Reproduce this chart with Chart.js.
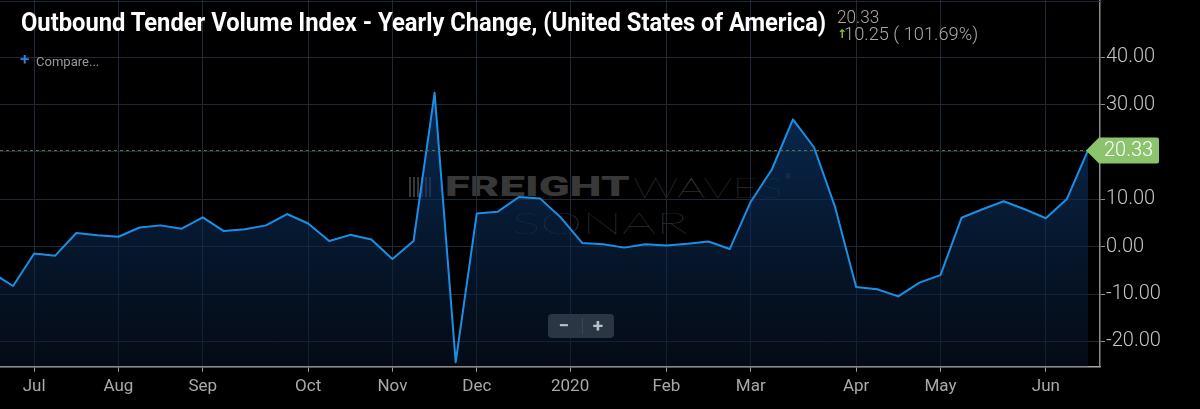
<!DOCTYPE html>
<html>
<head>
<meta charset="utf-8">
<script src="https://cdn.jsdelivr.net/npm/chart.js@4.4.1/dist/chart.umd.min.js"></script>
<style>
  html, body { margin: 0; padding: 0; background: #000; }
  #wrap { position: relative; width: 1200px; height: 409px; background: #000; overflow: hidden; }
  #chart { position: absolute; left: 0; top: 0; }
  .txt { position: absolute; white-space: nowrap; transform-origin: 0 0; }
  #title { left: 21px; top: 9px; font: 700 26px/26px Roboto, sans-serif; color: #fff; }
  #lastVal { left: 837px; top: 8px; font: 300 18px/18px Roboto, sans-serif; color: #a8a8a8; }
  #upArrow { left: 837px; top: 28px; font: bold 12px/12px "DejaVu Sans", sans-serif; color: #7cc04b; }
  #change { left: 844px; top: 25px; font: 300 18px/18px Roboto, sans-serif; color: #a8a8a8; }
  #plus { left: 20px; top: 51px; font: 500 17px/17px Roboto, sans-serif; color: #2a86e0; }
  #compare { left: 36px; top: 56px; font: 400 12px/12px Roboto, sans-serif; color: #999; }
  #wmIcon { position: absolute; left: 409px; top: 177px; width: 24px; height: 20px;
    background: repeating-linear-gradient(90deg, #383838 0 2px, transparent 2px 4px); }
  #wmFreight { left: 445px; top: 173px; font: 900 28px/28px Roboto, sans-serif; color: #383838; }
  #wmWaves { left: 633px; top: 173px; font: 100 28px/28px Lato, sans-serif; color: #424242; }
  #wmReg { left: 785px; top: 174px; font: 400 7px/7px Roboto, sans-serif; color: #444; }
  #wmSonar { left: 512px; top: 208px; font: 100 29px/29px Lato, sans-serif; color: #3b4552; }
  #zoomCtl { position: absolute; left: 548px; top: 314px; width: 66px; height: 24px;
    background: #2a3643; border-radius: 4px; }
  #zoomCtl .b { position: absolute; top: 0; height: 24px; font: 700 19px/24px Roboto, sans-serif;
    color: #b9c1c8; text-align: center; width: 20px; }
  #zoomCtl .sep { position: absolute; left: 34px; top: 4px; width: 1px; height: 16px; background: #3b4856; }
</style>
</head>
<body>
<div id="wrap">
  <div id="wmIcon"></div>
  <div class="txt" id="wmFreight">FREIGHT</div>
  <div class="txt" id="wmWaves">WAVES</div>
  <div class="txt" id="wmReg">®</div>
  <div class="txt" id="wmSonar">SONAR</div>
  <canvas id="chart" width="1200" height="409"></canvas>
  <div class="txt" id="title">Outbound Tender Volume Index - Yearly Change, (United States of America)</div>
  <div class="txt" id="lastVal"></div>
  <div class="txt" id="upArrow">↑</div>
  <div class="txt" id="change"></div>
  <div class="txt" id="plus">+</div>
  <div class="txt" id="compare">Compare...</div>
  <div id="zoomCtl"><div class="b" style="left:6px">−</div><div class="sep"></div><div class="b" style="left:40px">+</div></div>
</div>
<script>
// weekly points (Sundays)
const weekDates = [
  '2019-06-23', '2019-06-30', '2019-07-07', '2019-07-14', '2019-07-21', '2019-07-28',
  '2019-08-04', '2019-08-11', '2019-08-18', '2019-08-25', '2019-09-01', '2019-09-08',
  '2019-09-15', '2019-09-22', '2019-09-29', '2019-10-06', '2019-10-13', '2019-10-20',
  '2019-10-27', '2019-11-03', '2019-11-10', '2019-11-17', '2019-11-24', '2019-12-01',
  '2019-12-08', '2019-12-15', '2019-12-22', '2019-12-29', '2020-01-05', '2020-01-12',
  '2020-01-19', '2020-01-26', '2020-02-02', '2020-02-09', '2020-02-16', '2020-02-23',
  '2020-03-01', '2020-03-08', '2020-03-15', '2020-03-22', '2020-03-29', '2020-04-05',
  '2020-04-12', '2020-04-19', '2020-04-26', '2020-05-03', '2020-05-10', '2020-05-17',
  '2020-05-24', '2020-05-31', '2020-06-07', '2020-06-14', '2020-06-21'
];

// yearly change, %
const tenderChange = [
  -5.5, -8.3, -1.45, -1.9, 2.9, 2.4,
  2.1, 4.05, 4.5, 3.8, 6.2, 3.3,
  3.7, 4.5, 6.9, 4.9, 1.2, 2.5,
  1.5, -2.6, 1.2, 32.5, -24.4, 7.0,
  7.4, 10.5, 10.2, 6.1, 0.8, 0.5,
  -0.2, 0.5, 0.25, 0.6, 1.1, -0.5,
  9.5, 16.3, 26.9, 21.0, 8.4, -8.5,
  -9.0, -10.5, -7.6, -6.0, 6.1, 7.9,
  9.6, 7.9, 6.0, 10.08, 20.33
];

const tickDates = ['2019-07-07', '2019-08-04', '2019-09-01', '2019-10-06', '2019-11-03', '2019-12-01',
  '2020-01-01', '2020-02-02', '2020-03-01', '2020-04-05', '2020-05-03', '2020-06-07'];
const tickLabels = ['Jul', 'Aug', 'Sep', 'Oct', 'Nov', 'Dec', '2020', 'Feb', 'Mar', 'Apr', 'May', 'Jun'];
const yTicks = [-20, -10, 0, 10, 20, 30, 40];

// ordinal position of a date among the weekly points
function dateToIndex(d) {
    const t = Date.parse(d);
    for (let i = 0; i < weekDates.length - 1; i++) {
        const a = Date.parse(weekDates[i]);
        const b = Date.parse(weekDates[i + 1]);
        if (t >= a && t < b) return i + (t - a) / (b - a);
    }
    return weekDates.length - 1;
}

const tickPos = tickDates.map(dateToIndex);
const lastIdx = tenderChange.length - 1;
const last = tenderChange[lastIdx];
const prev = tenderChange[lastIdx - 1];
const diff = last - prev;

document.getElementById('lastVal').textContent = last.toFixed(2);
document.getElementById('change').textContent = diff.toFixed(2) + ' ( ' + (diff / prev * 100).toFixed(2) + '%)';

// squeeze text boxes to the widths seen in the picture
function fitWidth(id, w) {
    const el = document.getElementById(id);
    el.style.transform = 'scaleX(' + (w / el.offsetWidth) + ')';
}
fitWidth('title', 805);
fitWidth('lastVal', 42);
fitWidth('change', 134);
fitWidth('compare', 63);
fitWidth('wmFreight', 185);
fitWidth('wmWaves', 150);
fitWidth('wmSonar', 175);

const gridColor = '#1d2836';

const lastLabel = {
    id: 'lastLabel',
    beforeDatasetsDraw(chart) {
        const ctx = chart.ctx;
        const area = chart.chartArea;
        ctx.save();
        ctx.strokeStyle = gridColor;
        ctx.lineWidth = 1;
        ctx.beginPath();
        ctx.moveTo(area.left, 1.5);
        ctx.lineTo(area.right, 1.5);
        ctx.stroke();
        ctx.restore();
    },
    afterDraw(chart) {
        const ctx = chart.ctx;
        const area = chart.chartArea;
        const y = chart.scales.y.getPixelForValue(last);
        const xLast = chart.scales.x.getPixelForValue(lastIdx);
        ctx.save();
        ctx.strokeStyle = '#55773b';
        ctx.lineWidth = 1;
        ctx.setLineDash([3, 3]);
        ctx.beginPath();
        ctx.moveTo(area.left, Math.round(y) + 0.5);
        ctx.lineTo(xLast, Math.round(y) + 0.5);
        ctx.stroke();
        ctx.setLineDash([]);
        // green price tag
        const x0 = area.right - 14, h = 13, x2 = 1159;
        ctx.fillStyle = '#8cc46e';
        ctx.beginPath();
        ctx.moveTo(x0, y);
        ctx.lineTo(x0 + 13, y - h);
        ctx.lineTo(x2 - 2, y - h);
        ctx.quadraticCurveTo(x2, y - h, x2, y - h + 2);
        ctx.lineTo(x2, y + h - 2);
        ctx.quadraticCurveTo(x2, y + h, x2 - 2, y + h);
        ctx.lineTo(x0 + 13, y + h);
        ctx.closePath();
        ctx.fill();
        ctx.fillStyle = '#fff';
        ctx.font = '300 20px Roboto';
        ctx.textBaseline = 'middle';
        ctx.fillText(last.toFixed(2), 1104, y + 1);
        ctx.restore();
    }
};

new Chart(document.getElementById('chart'), {
    type: 'line',
    data: {
        datasets: [{
            data: tenderChange.map((v, i) => ({ x: i, y: v })),
            borderColor: '#1a8fe6',
            borderWidth: 2,
            borderJoinStyle: 'round',
            pointRadius: 0,
            tension: 0,
            fill: 'start',
            backgroundColor: function(context) {
                const area = context.chart.chartArea;
                if (!area) return 'rgba(20,90,180,0.4)';
                const g = context.chart.ctx.createLinearGradient(0, area.top, 0, area.bottom);
                g.addColorStop(0, 'rgba(16,74,145,0.75)');
                g.addColorStop(0.5, 'rgba(12,50,98,0.6)');
                g.addColorStop(1, 'rgba(8,22,42,0.5)');
                return g;
            }
        }]
    },
    options: {
        responsive: false,
        animation: false,
        events: [],
        layout: { padding: 0 },
        plugins: {
            legend: { display: false },
            tooltip: { enabled: false }
        },
        scales: {
            x: {
                type: 'linear',
                min: 0.38,
                max: 52.57,
                afterBuildTicks: scale => { scale.ticks = tickPos.map(v => ({ value: v })); },
                afterFit: scale => {
                    scale.height = 42.3;
                    scale.paddingLeft = 0;
                    scale.paddingRight = 0;
                },
                ticks: {
                    autoSkip: false,
                    maxRotation: 0,
                    padding: 5,
                    color: '#a9a9a9',
                    font: { family: 'Roboto', size: 17 },
                    callback: (value, index) => tickLabels[index]
                },
                grid: { color: gridColor, tickColor: '#a0a0a0', tickLength: 5 },
                border: { color: '#a8a8a8', width: 1.5 }
            },
            y: {
                position: 'right',
                min: -25.35,
                max: 52.1,
                afterBuildTicks: scale => { scale.ticks = yTicks.map(v => ({ value: v })); },
                afterFit: scale => {
                    scale.width = 100;
                    scale.paddingTop = 0;
                    scale.paddingBottom = 0;
                },
                ticks: {
                    padding: 1,
                    color: '#c4c4c4',
                    font: { family: 'Roboto', size: 20, weight: '300' },
                    callback: v => v.toFixed(2)
                },
                grid: { color: gridColor, tickColor: '#8a8a8a', tickLength: 5 },
                border: { color: '#8a8a8a', width: 1.5 }
            }
        }
    },
    plugins: [lastLabel]
});
</script>
</body>
</html>
